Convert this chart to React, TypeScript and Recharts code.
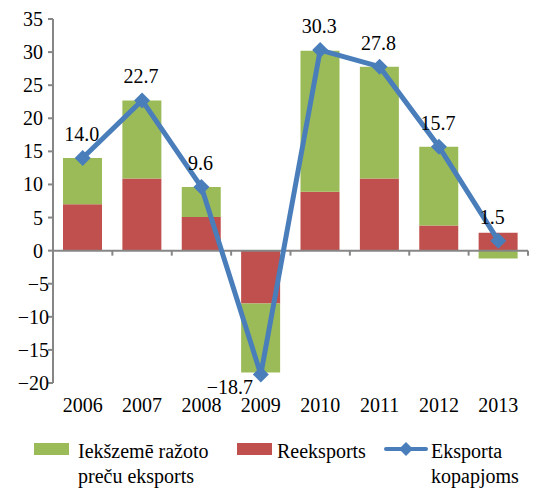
import React from 'react';
import { ComposedChart, Bar, Line, XAxis, YAxis, ReferenceLine, LabelList } from 'recharts';

const categories = ['2006', '2007', '2008', '2009', '2010', '2011', '2012', '2013'];
const reexport = [7.0, 10.9, 5.1, -8.0, 8.9, 10.9, 3.8, 2.7];
const domestic = [7.0, 11.8, 4.5, -10.4, 21.3, 16.9, 11.9, -1.2];
const total = [14.0, 22.7, 9.6, -18.7, 30.3, 27.8, 15.7, 1.5];
const yTicks = [-20, -15, -10, -5, 0, 5, 10, 15, 20, 25, 30, 35];

const data = categories.map((c, i) => ({
  year: c,
  reexport: reexport[i],
  domestic: domestic[i],
  total: total[i],
}));

const FONT = 'Liberation Serif';
const FS = 20;
const GREEN = '#9bbb59';
const RED = '#c0504d';
const BLUE = '#4a7ebb';
const AXIS = '#868686';

const fmt = (v: number) => (v < 0 ? '\u2212' + Math.abs(v) : String(v));

const YTick = (props: any) => {
  const { x, y, payload } = props;
  const v = payload.value;
  return (
    <text x={v < 0 ? x + 3 : x - 3} y={y} dy="0.35em" textAnchor="end" style={{ fontFamily: FONT }} fontSize={FS} fill="#000">
      {fmt(v)}
    </text>
  );
};

const Diamond = (props: any) => {
  const { cx, cy } = props;
  if (cx == null || cy == null) return null;
  const r = 8;
  return <polygon points={`${cx},${cy - r} ${cx + r},${cy} ${cx},${cy + r} ${cx - r},${cy}`} fill={BLUE} />;
};

const TotalLabel = (props: any) => {
  const { x, y, value, index } = props;
  const neg = value < 0;
  const last = index === categories.length - 1;
  return (
    <text
      x={neg ? x - 31 : last ? x - 6 : x - 1}
      y={neg ? y + 13 : y - 24}
      dy="0.35em"
      textAnchor="middle"
      style={{ fontFamily: FONT }}
      fontSize={FS}
      fill="#000"
    >
      {neg ? '\u2212' + Math.abs(value).toFixed(1) : value.toFixed(1)}
    </text>
  );
};

const ZeroTicks = (props: any) => {
  const vb = props.viewBox || {};
  const n = categories.length;
  const items = [];
  for (let k = 1; k <= n; k++) {
    const x = vb.x + (k * vb.width) / n;
    items.push(<line key={k} x1={x} x2={x} y1={vb.y} y2={vb.y + 5} stroke={AXIS} strokeWidth={2} />);
  }
  return <g>{items}</g>;
};

const legendText: React.CSSProperties = {
  position: 'absolute',
  fontFamily: FONT,
  fontSize: FS,
  lineHeight: '25px',
  color: '#000',
  whiteSpace: 'nowrap',
};

export default function App() {
  return (
    <div style={{ position: 'absolute', left: 0, top: 0, width: 533, height: 488, background: '#fff', fontFamily: FONT }}>
      <ComposedChart
        width={533}
        height={488}
        data={data}
        stackOffset="sign"
        margin={{ top: 19, right: 5, left: 0, bottom: 75 }}
        style={{ fontFamily: FONT }}
      >
        <XAxis
          dataKey="year"
          axisLine={false}
          tickLine={false}
          tickSize={0}
          tickMargin={15}
          height={30}
          interval={0}
          tick={{ fontFamily: FONT, fontSize: FS, fill: '#000' }}
        />
        <YAxis
          domain={[-20, 35]}
          ticks={yTicks}
          interval={0}
          width={53}
          axisLine={{ stroke: AXIS, strokeWidth: 2 }}
          tickLine={{ stroke: AXIS, strokeWidth: 2 }}
          tickSize={5}
          tick={<YTick />}
        />
        <Bar dataKey="reexport" stackId="a" fill={RED} barSize={39} isAnimationActive={false} />
        <Bar dataKey="domestic" stackId="a" fill={GREEN} barSize={39} isAnimationActive={false} />
        <ReferenceLine y={0} stroke={AXIS} strokeWidth={2} label={<ZeroTicks />} />
        <Line
          dataKey="total"
          stroke={BLUE}
          strokeWidth={5}
          dot={<Diamond />}
          activeDot={false}
          isAnimationActive={false}
        >
          <LabelList dataKey="total" content={<TotalLabel />} />
        </Line>
      </ComposedChart>

      <div style={{ position: 'absolute', left: 34, top: 443, width: 35, height: 12, background: GREEN }} />
      <div style={{ ...legendText, left: 78, top: 439 }}>
        Iekšzemē ražoto
        <br />
        preču eksports
      </div>
      <div style={{ position: 'absolute', left: 237, top: 443, width: 35, height: 12, background: RED }} />
      <div style={{ ...legendText, left: 277, top: 439 }}>Reeksports</div>
      <svg style={{ position: 'absolute', left: 384, top: 439 }} width={44} height={20}>
        <line x1={2} x2={42} y1={10} y2={10} stroke={BLUE} strokeWidth={4} strokeLinecap="round" />
        <polygon points="22,3 29,10 22,17 15,10" fill={BLUE} />
      </svg>
      <div style={{ ...legendText, left: 431, top: 439 }}>
        Eksporta
        <br />
        kopapjoms
      </div>
    </div>
  );
}
